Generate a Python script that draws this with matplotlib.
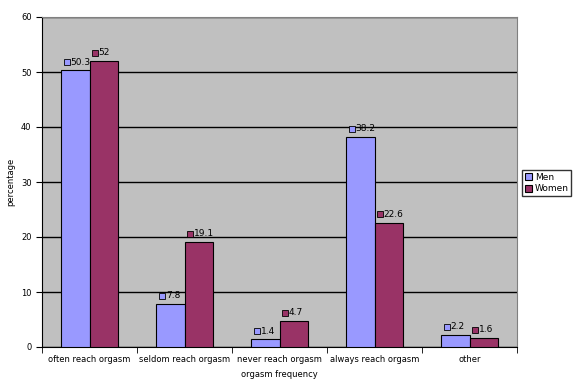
import matplotlib
matplotlib.use("Agg")
import matplotlib.pyplot as plt
import numpy as np

categories = ["often reach orgasm", "seldom reach orgasm", "never reach orgasm",
              "always reach orgasm", "other"]
men = [50.3, 7.8, 1.4, 38.2, 2.2]
women = [52, 19.1, 4.7, 22.6, 1.6]
series_names = ["Men", "Women"]
colors = ["#9999FF", "#993366"]

fig = plt.figure(figsize=(5.73, 3.92), dpi=100)
ax = fig.add_axes([42 / 573, 45 / 392, 475 / 573, 330 / 392])
ax.set_facecolor("#C0C0C0")

x = np.arange(len(categories))
w = 0.295
for i, (vals, name, c) in enumerate(zip([men, women], series_names, colors)):
    xs = x + (i - 0.5) * w
    ax.bar(xs, vals, width=w, color=c, edgecolor="black", linewidth=0.8,
           label=name, zorder=3)
    for xv, v in zip(xs, vals):
        ax.plot(xv - 0.09, v + 1.5, marker="s", ms=4, mfc=c, mec="black",
                mew=0.6, zorder=4, clip_on=False)
        ax.text(xv - 0.05, v + 1.5, f"{v:g}", fontsize=6.5, va="center",
                ha="left", zorder=4)

ax.set_xlim(-0.5, len(categories) - 0.5)
ax.set_ylim(0, 60)
ax.set_yticks(range(0, 61, 10))
ax.yaxis.grid(True, color="black", linewidth=1, zorder=0)
ax.set_xticks(x)
ax.set_xticklabels(categories, fontsize=6)
ax.tick_params(axis="x", length=0, pad=6)
ax.set_xticks(np.arange(-0.5, len(categories), 1), minor=True)
ax.tick_params(axis="x", which="minor", length=4, direction="out")
ax.tick_params(axis="y", labelsize=6, length=4, direction="out")
for s in ["top", "right"]:
    ax.spines[s].set_color("#808080")
ax.spines["left"].set_color("black")
ax.spines["bottom"].set_color("black")

ax.set_xlabel("orgasm frequency", fontsize=6, labelpad=4)
ax.set_ylabel("percentage", fontsize=6)

fig.legend(loc="upper left", bbox_to_anchor=(522 / 573, 1 - 170 / 392),
           fontsize=6.5, frameon=True, fancybox=False, edgecolor="black",
           handlelength=0.8, handleheight=0.8, handletextpad=0.3,
           borderpad=0.3, labelspacing=0.3, borderaxespad=0)

fig.savefig("out.png", dpi=100)
